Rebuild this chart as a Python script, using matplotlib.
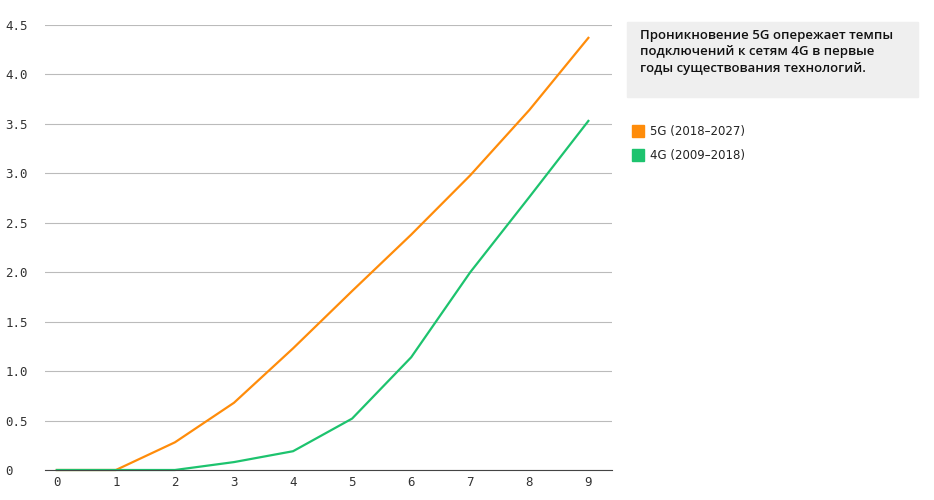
import matplotlib
matplotlib.use("Agg")
import matplotlib.pyplot as plt
from matplotlib.patches import Rectangle

years = list(range(10))
g5 = [0, 0, 0.28, 0.68, 1.23, 1.81, 2.38, 2.98, 3.64, 4.37]
g4 = [0, 0, 0, 0.08, 0.19, 0.52, 1.14, 2.00, 2.76, 3.53]
yticks = [0, 0.5, 1.0, 1.5, 2.0, 2.5, 3.0, 3.5, 4.0, 4.5]
ylabels = ["0", "0.5", "1.0", "1.5", "2.0", "2.5", "3.0", "3.5", "4.0", "4.5"]
c5, c4 = "#ff8c0a", "#1dc36e"

fig = plt.figure(figsize=(9.34, 5.0), dpi=100)
ax = fig.add_axes([45/934, 30/500, (612-45)/934, (470-25)/500])
ax.plot(years, g5, color=c5, lw=1.6, clip_on=False)
ax.plot(years, g4, color=c4, lw=1.6, clip_on=False)
ax.set_xlim(-0.2, 9.4)
ax.set_ylim(0, 4.5)
ax.set_yticks(yticks)
ax.set_yticklabels(ylabels)
ax.set_xticks(years)
ax.grid(axis="y", color="#bbbbbb", lw=0.8)
for s in ["top", "right", "left"]:
    ax.spines[s].set_visible(False)
ax.spines["bottom"].set_color("#444444")
ax.tick_params(length=0, labelsize=9, colors="#333333", pad=4)
ax.tick_params(axis="y", pad=10)
for lab in ax.get_yticklabels():
    lab.set_horizontalalignment("left")
    lab.set_x(-0.045)
    lab.set_family("DejaVu Sans Mono")
for lab in ax.get_xticklabels():
    lab.set_family("DejaVu Sans Mono")
ax.set_axisbelow(True)

fig.patches.append(Rectangle((627/934, 1-97/500), 291/934, 75/500,
                             transform=fig.transFigure, color="#efefef", zorder=0))
fig.text(640/934, 1-29/500, "Проникновение 5G опережает темпы\nподключений к сетям 4G в первые\nгоды существования технологий.",
         ha="left", va="top", fontsize=9.5, fontweight="semibold", family="Open Sans",
         color="#111111", linespacing=1.35)
for i, (lbl, c) in enumerate([("5G (2018–2027)", c5), ("4G (2009–2018)", c4)]):
    y = 1 - (131 + i*24)/500
    fig.patches.append(Rectangle((632/934, y-6/500), 12/934, 12/500,
                                 transform=fig.transFigure, color=c))
    fig.text(650/934, y, lbl, ha="left", va="center", fontsize=8.5, color="#222222")

fig.savefig("out.png", dpi=100, facecolor="white")
